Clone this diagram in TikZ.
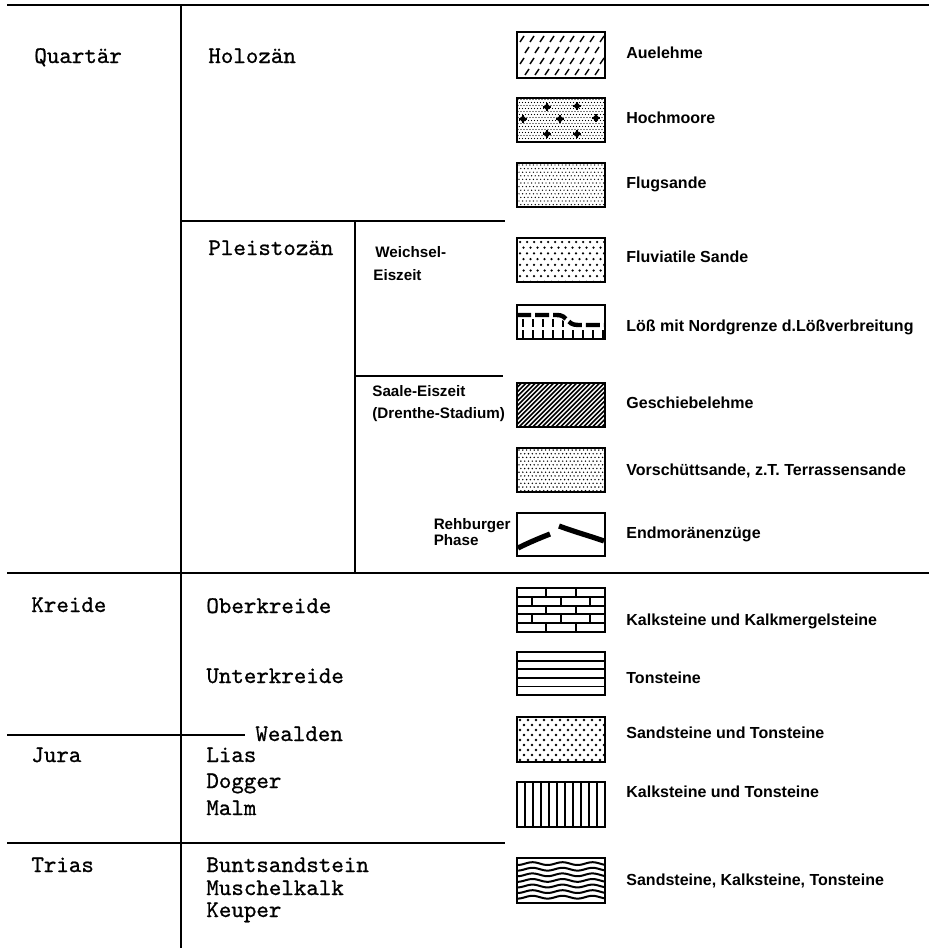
\documentclass[tikz,border=0pt]{standalone}
\usepackage{fontspec}
\newfontfamily\legfont{Liberation Sans}
\newfontfamily\agefont{lmmono10-regular.otf}[FakeBold=0.8]
\usetikzlibrary{calc}

\begin{document}
\begin{tikzpicture}[
    x=0.5pt, y=-0.5pt,
    rule/.style={line width=1pt},
    legbox/.style={draw, line width=1.3pt},
    agetext/.style={font=\agefont\fontsize{11.9}{13}\selectfont, anchor=base west, inner sep=0pt},
    legtext/.style={font=\legfont\bfseries\fontsize{8}{9.5}\selectfont, anchor=base west, inner sep=0pt},
    stagetext/.style={font=\legfont\bfseries\fontsize{7.6}{9}\selectfont, anchor=base west, inner sep=0pt},
]
\useasboundingbox (0,0) rectangle (929,948);
% table rules
\draw[rule] (7,5) -- (929,5);
\draw[rule] (181,5) -- (181,948);
\draw[rule] (181,221) -- (505,221);
\draw[rule] (355,221) -- (355,573);
\draw[rule] (355,376) -- (503,376);
\draw[rule] (7,573) -- (929,573);
\draw[rule] (7,735) -- (245,735);
\draw[rule] (7,843) -- (505,843);
% periods and epochs
\node[agetext] (quartaer) at (34,63) {Quartär};
\node[agetext] (kreide) at (31,612) {Kreide};
\node[agetext] (jura) at (31,762) {Jura};
\node[agetext] (trias) at (31,872) {Trias};
\node[agetext] (holozaen) at (208,63) {Holozän};
\node[agetext] (pleisto) at (208,255) {Pleistozän};
\node[agetext] (oberkr) at (206,613) {Oberkreide};
\node[agetext] (unterkr) at (206,683) {Unterkreide};
\node[agetext] (wealden) at (255,741) {Wealden};
\node[agetext] (lias) at (206,762) {Lias};
\node[agetext] (dogger) at (206,788) {Dogger};
\node[agetext] (malm) at (206,815) {Malm};
\node[agetext] (bunt) at (206,872) {Buntsandstein};
\node[agetext] (muschel) at (206,895) {Muschelkalk};
\node[agetext] (keuper) at (206,917) {Keuper};
% stages
\node[stagetext] (weichsel) at (375,257) {Weichsel-};
\node[stagetext] (weichselb) at (373,280) {Eiszeit};
\node[stagetext] (saale) at (372,396) {Saale-Eiszeit};
\node[stagetext] (drenthe) at (372,418) {(Drenthe-Stadium)};
\node[stagetext, anchor=base east] (rehb) at (511,529) {Rehburger};
\node[stagetext] (phase) at (rehb.base west |- 0,545) {Phase};
% Auelehme: short slashes
\begin{scope}
  \clip (517,32) rectangle (605,78);
  \foreach \r in {0,...,3}
    \foreach \c in {0,...,8}
      \draw[line width=0.7pt] ({522+\c*10+mod(\r,2)*5},{39+\r*11}) ++(-2,3) -- ++(4,-6);
\end{scope}
\draw[legbox] (517,32) rectangle (605,78);
% Hochmoore: stipple with blobs
\begin{scope}
  \clip (517,98) rectangle (605,142);
  \foreach \j in {0,...,14}
    \foreach \i in {0,...,29}
      \fill ({518+\i*3+mod(\j,2)*1.5},{99.5+\j*3}) circle (0.65);
  \foreach \p in {(547,107),(577,106),(523,119),(560,119),(596,118),(547,134),(577,134)} {
    \fill \p circle (2.8);
    \draw[line width=1pt] \p ++(-4,0) -- ++(8,0);
    \draw[line width=1pt] \p ++(0,-4) -- ++(0,8);
  }
\end{scope}
\draw[legbox] (517,98) rectangle (605,142);
% Flugsande: fine dots
\begin{scope}
  \clip (517,163) rectangle (605,207);
  \foreach \j in {0,...,11}
    \foreach \i in {0,...,24}
      \fill ({519+\i*3.6+mod(\j,2)*1.8},{165+\j*3.6}) circle (0.7);
\end{scope}
\draw[legbox] (517,163) rectangle (605,207);
% Fluviatile Sande: coarse dots
\begin{scope}
  \clip (517,238) rectangle (605,282);
  \foreach \j in {0,...,7}
    \foreach \i in {0,...,12}
      \fill ({520+\i*7+mod(\j,2)*3.5},{242+\j*5.7}) circle (1.25);
\end{scope}
\draw[legbox] (517,238) rectangle (605,282);
% Loess with northern limit
\begin{scope}
  \clip (517,319) -- (557,319) .. controls (568,319) and (566,329) .. (578,329) -- (605,329) -- (605,339) -- (517,339) -- cycle;
  \foreach \i in {0,...,8}
    \draw[line width=1.1pt, dash pattern=on 4pt off 1.5pt] ({523+\i*10},319) -- ({523+\i*10},339);
\end{scope}
\draw[line width=2.2pt, dash pattern=on 7pt off 2pt] (517,315) -- (557,315) .. controls (568,315) and (566,325) .. (578,325) -- (605,325);
\draw[legbox] (517,305) rectangle (605,339);
% Geschiebelehme: hatching
\begin{scope}
  \clip (517,383) rectangle (605,427);
  \foreach \i in {0,...,30}
    \draw[line width=0.8pt] ({473+\i*4.6},427) -- ++(44,-44);
\end{scope}
\draw[legbox] (517,383) rectangle (605,427);
% Vorschuettsande: dense dots
\begin{scope}
  \clip (517,448) rectangle (605,492);
  \foreach \j in {0,...,11}
    \foreach \i in {0,...,23}
      \fill ({519+\i*3.8+mod(\j,2)*1.9},{450+\j*3.7}) circle (0.8);
\end{scope}
\draw[legbox] (517,448) rectangle (605,492);
% Endmoraenen
\draw[legbox] (517,513) rectangle (605,556);
\draw[line width=2.6pt] (518,548) .. controls (530,542) and (540,538) .. (550,534);
\draw[line width=2.6pt] (559,526) .. controls (575,532) and (590,536) .. (604,541);
% Kalksteine und Kalkmergelsteine: bricks
\begin{scope}
  \clip (517,588) rectangle (605,632);
  \foreach \k in {1,...,4}
    \draw[line width=1pt] (517,{588+\k*8.8}) -- (605,{588+\k*8.8});
  \foreach \k in {0,...,4}
    \foreach \c in {0,...,3}
      \draw[line width=1pt] ({517+14.7*mod(\k,2)+\c*29.3},{588+\k*8.8}) -- ++(0,8.8);
\end{scope}
\draw[legbox] (517,588) rectangle (605,632);
% Tonsteine
\foreach \k in {1,...,4}
  \draw[line width=0.9pt] (517,{652+\k*8.6}) -- (605,{652+\k*8.6});
\draw[legbox] (517,652) rectangle (605,695);
% Sandsteine und Tonsteine
\begin{scope}
  \clip (517,717) rectangle (605,762);
  \foreach \j in {0,...,8}
    \foreach \i in {0,...,11}
      \fill ({520+\i*8+mod(\j,2)*4},{720+\j*5}) circle (1.4);
\end{scope}
\draw[legbox] (517,717) rectangle (605,762);
% Kalksteine und Tonsteine: columns
\foreach \i in {1,...,10}
  \draw[line width=0.9pt] ({517+\i*8},782) -- ++(0,45);
\draw[legbox] (517,782) rectangle (605,827);
% Sandsteine, Kalksteine, Tonsteine: waves
\begin{scope}
  \clip (517,858) rectangle (605,903);
  \foreach \k in {1,...,7}
    \draw[line width=1pt] plot[domain=517:605, samples=45, smooth] (\x,{858+\k*5.6+1.4*sin(12*\x)});
\end{scope}
\draw[legbox] (517,858) rectangle (605,903);
% legend labels
\node[legtext] (aue) at (626,58) {Auelehme};
\node[legtext] (hoch) at (626,123) {Hochmoore};
\node[legtext] (flug) at (626,188) {Flugsande};
\node[legtext] (fluv) at (626,262) {Fluviatile Sande};
\node[legtext] (loess) at (626,331) {Löß mit Nordgrenze d.Lößverbreitung};
\node[legtext] (gesch) at (626,408) {Geschiebelehme};
\node[legtext] (vorsch) at (626,475) {Vorschüttsande, z.T. Terrassensande};
\node[legtext] (endm) at (626,538) {Endmoränenzüge};
\node[legtext] (kalkm) at (626,625) {Kalksteine und Kalkmergelsteine};
\node[legtext] (ton) at (626,683) {Tonsteine};
\node[legtext] (sandton) at (626,738) {Sandsteine und Tonsteine};
\node[legtext] (kalkton) at (626,797) {Kalksteine und Tonsteine};
\node[legtext] (skt) at (626,885) {Sandsteine, Kalksteine, Tonsteine};
\end{tikzpicture}
\end{document}
